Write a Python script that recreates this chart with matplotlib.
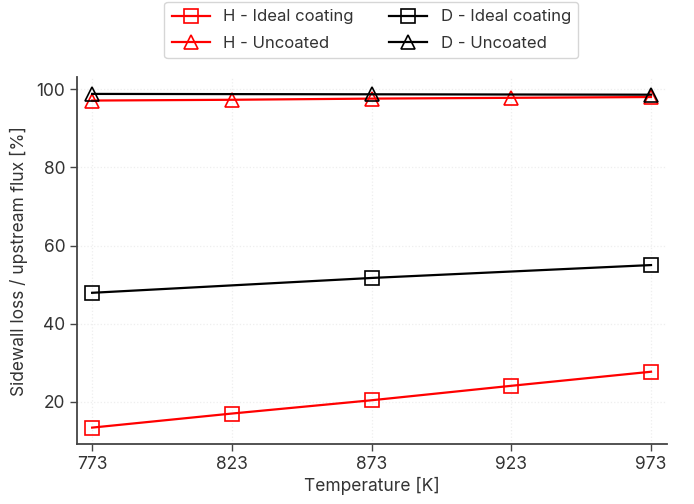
import matplotlib
matplotlib.use("Agg")
import matplotlib.pyplot as plt

plt.rcParams["font.family"] = ["Inter", "DejaVu Sans"]

# ---- data ----
temps_h = [773, 823, 873, 923, 973]
h_ideal = [13.4, 17.0, 20.4, 24.1, 27.7]
h_uncoated = [97.1, 97.3, 97.6, 97.8, 98.0]

temps_d = [773, 873, 973]
d_ideal = [47.9, 51.7, 55.0]
d_uncoated = [98.8, 98.7, 98.6]

xticks = [773, 823, 873, 923, 973]

INK = "#333333"

fig = plt.figure(figsize=(6.94, 5.04), dpi=100)
ax = fig.add_axes([0.111, 0.119, 0.85, 0.728])

mk = dict(markersize=10, markerfacecolor="none", markeredgewidth=1.2, linewidth=1.6)
ax.plot(temps_h, h_ideal, color="red", marker="s", label="H - Ideal coating", **mk)
ax.plot(temps_h, h_uncoated, color="red", marker="^", label="H - Uncoated", **mk)
ax.plot(temps_d, d_ideal, color="black", marker="s", label="D - Ideal coating", **mk)
ax.plot(temps_d, d_uncoated, color="black", marker="^", label="D - Uncoated", **mk)

ax.set_xlim(767.6, 978.7)
ax.set_ylim(9.2, 103.1)
ax.set_xticks(xticks)
ax.set_yticks([20, 40, 60, 80, 100])
ax.grid(True, color="#eeeeee", linestyle=":", linewidth=0.9)
ax.set_axisbelow(True)

for s in ["top", "right"]:
    ax.spines[s].set_visible(False)
for s in ["left", "bottom"]:
    ax.spines[s].set_color("#444444")
    ax.spines[s].set_linewidth(1.3)
ax.tick_params(colors=INK, labelsize=12.5, length=5, width=1)
ax.tick_params(axis="both", color="#444444")

ax.set_xlabel("Temperature [K]", fontsize=12.5, color=INK, labelpad=3)
ax.set_ylabel("Sidewall loss / upstream flux [%]", fontsize=12.5, color=INK, labelpad=6)

fig.legend(*ax.get_legend_handles_labels(), ncol=2, loc="upper center",
           bbox_to_anchor=(0.535, 1 - 2 / 504), borderaxespad=0,
           fontsize=12, frameon=True, edgecolor="#cccccc", fancybox=True,
           columnspacing=2.1, handlelength=2.3, handletextpad=0.8,
           labelcolor=INK, borderpad=0.45, labelspacing=0.68)

fig.savefig("out.png", dpi=100, facecolor="white")
